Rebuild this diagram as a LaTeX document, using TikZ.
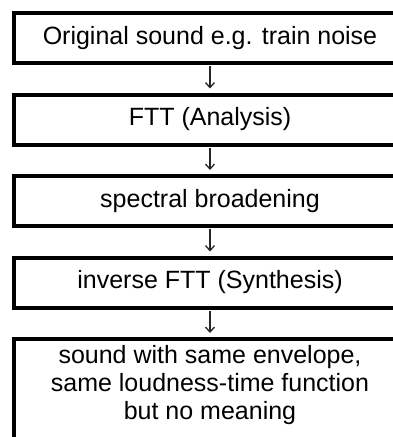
\documentclass[tikz,border=0pt]{standalone}
\usepackage{fontspec}
\setmainfont{Liberation Sans}
\usetikzlibrary{arrows.meta}
\begin{document}
\begin{tikzpicture}[x=1pt,y=1pt,
  flowbox/.style={draw=black, line width=4pt, minimum width=393pt, minimum height=50pt,
    inner sep=0pt, font=\fontsize{25}{28}\selectfont, align=center},
  txt/.style={inner sep=0pt, font=\fontsize{25}{28}\selectfont, align=center},
  flowarrow/.style={draw=black!85, line width=1.3pt, shorten <=1pt, shorten >=4pt,
    -{Straight Barb[length=5pt,width=9pt,line width=1.3pt]}}]
\useasboundingbox (0,0) rectangle (393,-437);
\clip (0,0) rectangle (393,-437);
\node[flowbox] (b1) at (210,-38) {Original sound e.g. train noise};
\node[flowbox] (b2) at (210,-119.5) {FTT (Analysis)};
\node[flowbox] (b3) at (210,-201) {spectral broadening};
\node[flowbox] (b4) at (210,-282.5) {inverse FTT (Synthesis)};
\node[flowbox, minimum height=130pt, anchor=north] (b5) at (210,-337) {};
\node[txt] (t5) at (210,-385) {sound with same envelope,\\same loudness-time function\\but no meaning};
\draw[flowarrow] (b1.south) -- (b2.north);
\draw[flowarrow] (b2.south) -- (b3.north);
\draw[flowarrow] (b3.south) -- (b4.north);
\draw[flowarrow] (b4.south) -- (b5.north);
\end{tikzpicture}
\end{document}
